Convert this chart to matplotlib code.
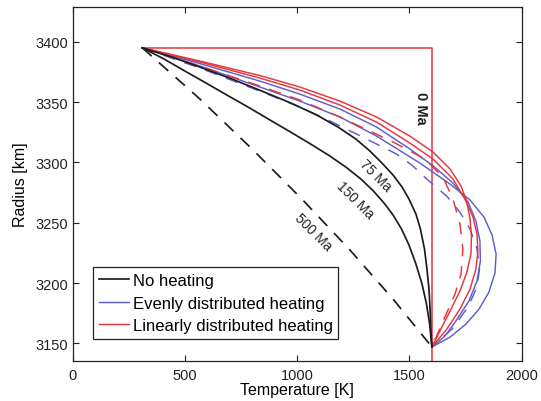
import matplotlib
matplotlib.use("Agg")
import matplotlib.pyplot as plt

plt.rcParams["font.family"] = ["Liberation Sans", "DejaVu Sans"]
plt.rcParams["lines.scale_dashes"] = False

# Initial (0 Ma) profile
t_0ma = [310, 1600, 1600]
r_0ma = [3395, 3395, 3120]

# No heating
t_none_75 = [310, 442, 567, 710, 843, 972, 1088, 1182, 1262, 1324, 1378, 1427, 1467,
             1498, 1529, 1549, 1567, 1578, 1587, 1592, 1595, 1600]
r_none_75 = [3395, 3387.3, 3379.0, 3369.1, 3359.1, 3349.2, 3339.2, 3329.3, 3319.3, 3309.4,
             3299.4, 3289.5, 3279.6, 3269.6, 3257.2, 3244.7, 3228.2, 3211.6, 3195.0,
             3178.4, 3161.9, 3147]
t_none_150 = [310, 407, 500, 594, 687, 781, 872, 963, 1053, 1139, 1217, 1284, 1340, 1387,
              1427, 1465, 1498, 1529, 1556, 1576, 1590, 1600]
r_none_150 = [3395, 3385.7, 3375.7, 3365.8, 3355.8, 3345.9, 3335.9, 3326.0, 3316.0, 3306.1,
              3296.1, 3286.2, 3276.2, 3266.3, 3256.4, 3244.7, 3231.5, 3215.7, 3199.2,
              3182.6, 3166.0, 3147]
t_none_500 = [310, 567, 799, 1021, 1231, 1427, 1600]
r_none_500 = [3395, 3352.5, 3311.1, 3269.6, 3228.2, 3186.7, 3147]

# Evenly distributed heating
t_even_75 = [310, 567, 834, 1012, 1191, 1354, 1502, 1605, 1694, 1761, 1796, 1814, 1816,
             1801, 1765, 1707, 1658, 1600]
r_even_75 = [3395, 3381.9, 3367.4, 3356.6, 3344.2, 3329.3, 3311.1, 3297.2, 3282.9, 3267.1,
             3251.4, 3234.8, 3218.2, 3201.6, 3185.1, 3168.5, 3156.0, 3147]
t_even_150 = [310, 567, 834, 1012, 1191, 1354, 1547, 1681, 1770, 1832, 1868, 1886, 1881,
              1854, 1810, 1752, 1681, 1600]
r_even_150 = [3395, 3379.9, 3362.5, 3350.8, 3337.6, 3321.8, 3299.4, 3282.0, 3268.8, 3254.7,
              3239.8, 3224.0, 3208.3, 3192.5, 3178.4, 3166.0, 3155.2, 3147]
t_even_500 = [310, 567, 834, 1012, 1146, 1280, 1443, 1511, 1577, 1666, 1725, 1770, 1801,
              1812, 1801, 1761, 1690, 1600]
r_even_500 = [3395, 3378.2, 3359.1, 3345.9, 3334.3, 3322.1, 3306.9, 3297.8, 3286.2, 3272.1,
              3258.8, 3244.7, 3228.2, 3211.6, 3196.7, 3180.1, 3161.9, 3147]

# Linearly distributed heating
t_lin_75 = [310, 567, 834, 1012, 1191, 1354, 1502, 1605, 1681, 1730, 1756, 1770, 1776,
            1774, 1756, 1725, 1681, 1640, 1600]
r_lin_75 = [3395, 3384.0, 3372.0, 3362.5, 3350.8, 3337.6, 3321.8, 3308.6, 3294.5, 3280.4,
            3267.1, 3253.0, 3238.9, 3224.0, 3209.1, 3193.4, 3176.8, 3161.9, 3147]
t_lin_150 = [310, 567, 834, 1012, 1191, 1354, 1502, 1605, 1694, 1747, 1783, 1801, 1805,
             1796, 1770, 1725, 1667, 1600]
r_lin_150 = [3395, 3383.2, 3369.9, 3360.0, 3347.5, 3333.4, 3316.0, 3302.8, 3286.2, 3269.6,
             3254.7, 3240.6, 3226.5, 3211.6, 3195.0, 3178.4, 3161.9, 3147]
t_lin_500 = [310, 567, 834, 1012, 1191, 1427, 1569, 1649, 1694, 1725, 1738, 1730, 1703,
             1658, 1600]
r_lin_500 = [3395, 3379.9, 3363.3, 3351.7, 3337.6, 3316.9, 3302.8, 3287.9, 3269.6, 3248.9,
             3228.2, 3207.4, 3190.9, 3171.8, 3147]

x_ticks = [0, 500, 1000, 1500, 2000]
y_ticks = [3150, 3200, 3250, 3300, 3350, 3400]

BLACK = "#1e1e1e"
BLUE = "#5e5ecc"
RED = "#e6353c"
DASH = (0, (9, 7))

fig = plt.figure(figsize=(5.41, 4.02), dpi=100)
ax = fig.add_axes([0.1344, 0.1002, 0.8299, 0.8798])

ax.plot(t_0ma, r_0ma, color=RED, lw=1.1)

ax.plot(t_even_75, r_even_75, color=BLUE, lw=1.05)
ax.plot(t_even_150, r_even_150, color=BLUE, lw=1.05)
ax.plot(t_even_500, r_even_500, color=BLUE, lw=1.05, linestyle=DASH)
ax.plot(t_lin_75, r_lin_75, color=RED, lw=1.05)
ax.plot(t_lin_150, r_lin_150, color=RED, lw=1.05)
ax.plot(t_lin_500, r_lin_500, color=RED, lw=1.05, linestyle=DASH)

ax.plot(t_none_75, r_none_75, color=BLACK, lw=1.25)
ax.plot(t_none_150, r_none_150, color=BLACK, lw=1.25)
ax.plot(t_none_500, r_none_500, color=BLACK, lw=1.25, linestyle=DASH)

# Legend proxies
h_none, = ax.plot([], [], color=BLACK, lw=1.25, label="No heating")
h_even, = ax.plot([], [], color=BLUE, lw=1.05, label="Evenly distributed heating")
h_lin, = ax.plot([], [], color=RED, lw=1.05, label="Linearly distributed heating")

ax.text(1553, 3345.5, "0 Ma", rotation=-90, ha="center", va="center",
        fontsize=10.5, fontweight="bold", color="#222222")
ax.text(1350, 3289.7, "75 Ma", rotation=-45, ha="center", va="center",
        fontsize=10, color="#222222")
ax.text(1258, 3269.6, "150 Ma", rotation=-45, ha="center", va="center",
        fontsize=10, color="#222222")
ax.text(1070, 3242.7, "500 Ma", rotation=-45, ha="center", va="center",
        fontsize=10, color="#222222")

ax.set_xlim(0, 2000)
ax.set_ylim(3135.6, 3428.8)
ax.set_xticks(x_ticks)
ax.set_yticks(y_ticks)
ax.tick_params(direction="in", top=True, right=True, length=4, width=0.8,
               labelsize=10.5, colors="#222222")
ax.tick_params(axis="x", pad=5)
for s in ax.spines.values():
    s.set_linewidth(0.9)
    s.set_color("#222222")

ax.set_xlabel("Temperature [K]", fontsize=11.5, labelpad=0)
ax.set_ylabel("Radius [km]", fontsize=11.5, labelpad=5)

leg = ax.legend(handles=[h_none, h_even, h_lin], loc="lower left",
                bbox_to_anchor=(0.046, 0.061), fontsize=12, frameon=True,
                fancybox=False, framealpha=1, edgecolor="#222222",
                handlelength=1.8, handletextpad=0.2, labelspacing=0.45,
                borderpad=0.35, borderaxespad=0)
leg.get_frame().set_linewidth(0.9)

fig.savefig("out.png", dpi=100)
